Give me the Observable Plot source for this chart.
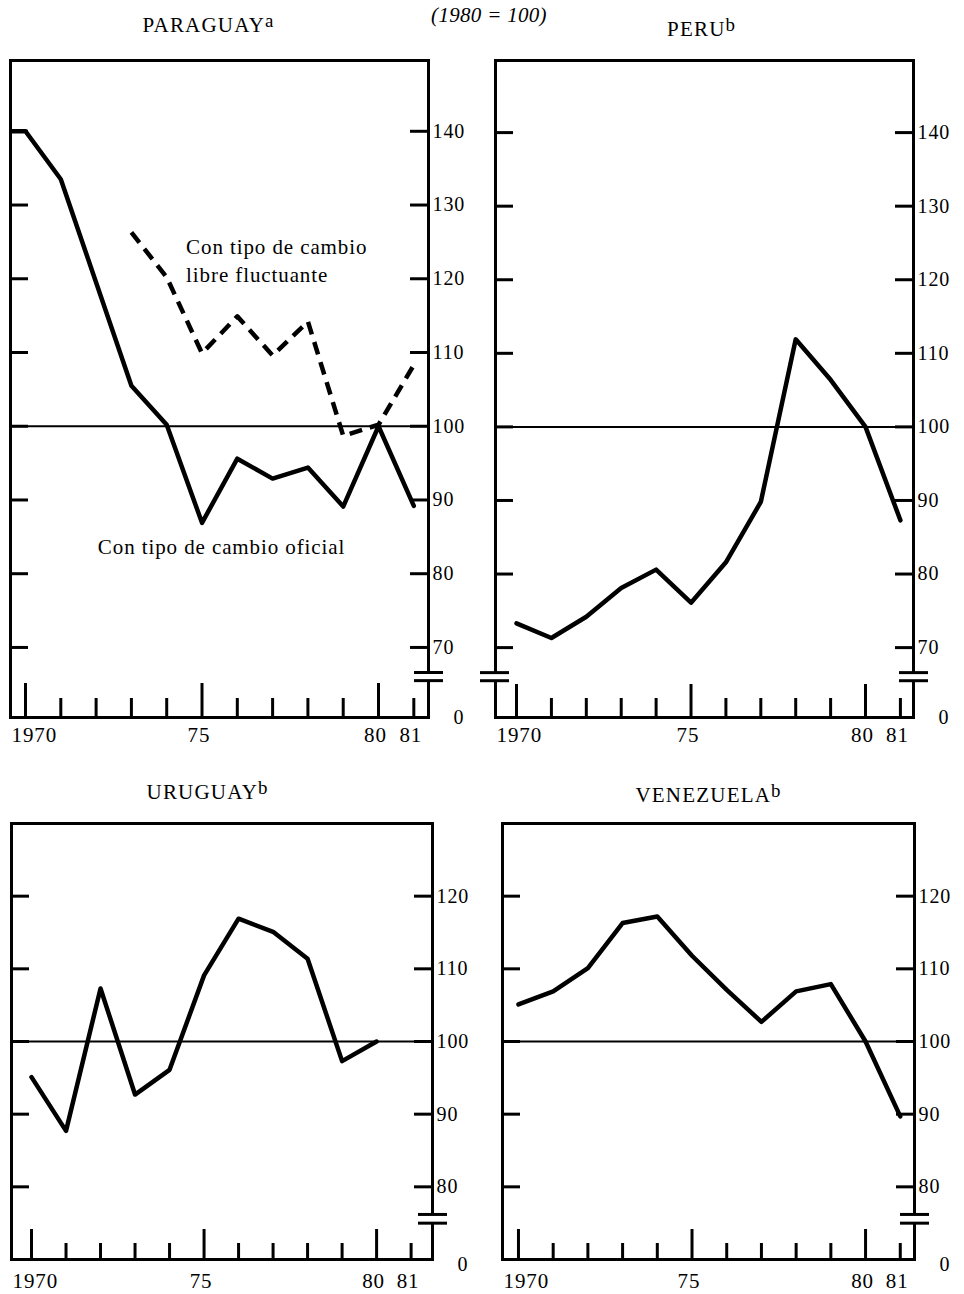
<!DOCTYPE html>
<html><head><meta charset="utf-8">
<script src="https://cdn.jsdelivr.net/npm/d3@7"></script>
<script src="https://cdn.jsdelivr.net/npm/@observablehq/plot@0.6"></script>
<style>
body{margin:0;background:#fff;}
#page{position:relative;width:964px;height:1294px;font-family:"Liberation Serif",serif;color:#000;background:#fff;overflow:hidden;}
.title{position:absolute;font-size:21px;line-height:1;letter-spacing:1.2px;transform:translateX(-50%);white-space:nowrap;}
.title sup{font-size:0.9em;vertical-align:baseline;position:relative;top:-0.28em;letter-spacing:0;}
.subtitle{font-style:italic;letter-spacing:0.3px;font-size:21px;}
.panel{position:absolute;}
.panel svg text{letter-spacing:0.9px;}
</style></head><body><div id="page"></div>
<script>
// ---- data ----
const minorYears = [1971, 1972, 1973, 1974, 1976, 1977, 1978, 1979, 1981];
const majorYears = [1970, 1975, 1980];
const yearLabelYears = [1975, 1980, 1981];
const yearLabels = ["75", "80", "81"];
const firstYearLabel = ["1970"];
const zeroLabel = ["0"];
const topTicks = [70, 80, 90, 100, 110, 120, 130, 140];
const bottomTicks = [80, 90, 100, 110, 120];
const topBreaks = [66.6, 65.5];
const bottomBreaks = [76.2, 75.0];

const paraguayYears = [1969, 1970, 1971, 1972, 1973, 1974, 1975, 1976, 1977, 1978, 1979, 1980, 1981];
const paraguayOficial = [140, 140, 133.5, 119.5, 105.5, 100.2, 86.9, 95.6, 92.9, 94.4, 89.1, 100, 89.2];
const paraguayLibreYears = [1973, 1974, 1975, 1976, 1977, 1978, 1979, 1980, 1981];
const paraguayLibre = [126.3, 120.2, 109.9, 114.9, 109.6, 114.2, 98.7, 100.2, 108.3];
const paraguayNotes = [
  {text: "Con tipo de cambio", x: 1974.55, y: 123.3},
  {text: "libre fluctuante", x: 1974.55, y: 119.6},
  {text: "Con tipo de cambio oficial", x: 1972.05, y: 82.7}
];

const peruYears = [1970, 1971, 1972, 1973, 1974, 1975, 1976, 1977, 1978, 1979, 1980, 1981];
const peruValues = [73.3, 71.3, 74.2, 78.1, 80.6, 76.1, 81.6, 89.8, 111.9, 106.4, 100, 87.3];

const uruguayYears = [1970, 1971, 1972, 1973, 1974, 1975, 1976, 1977, 1978, 1979, 1980];
const uruguayValues = [95.1, 87.7, 107.3, 92.7, 96.1, 109.1, 116.9, 115.1, 111.4, 97.3, 100];

const venezuelaYears = [1970, 1971, 1972, 1973, 1974, 1975, 1976, 1977, 1978, 1979, 1980, 1981];
const venezuelaValues = [105.1, 106.9, 110.1, 116.3, 117.2, 111.8, 107.1, 102.7, 106.9, 107.9, 100, 89.7];

const titles = [
  {html: "PARAGUAY<sup>a</sup>", cx: 208, top: 15},
  {html: "(1980 = 100)", cx: 489, top: 5, cls: "subtitle"},
  {html: "PERU<sup>b</sup>", cx: 701, top: 19},
  {html: "URUGUAY<sup>b</sup>", cx: 207, top: 782},
  {html: "VENEZUELA<sup>b</sup>", cx: 708, top: 785}
];

// ---- layout ----
const page = document.getElementById("page");
for (const t of titles) {
  const d = document.createElement("div");
  d.className = "title" + (t.cls ? " " + t.cls : "");
  d.style.left = t.cx + "px";
  d.style.top = t.top + "px";
  d.innerHTML = t.html;
  page.appendChild(d);
}

const toRows = (xs, ys) => xs.map((x, i) => ({year: x, value: ys[i]}));

function panel(cfg) {
  const plotW = cfg.width - cfg.mL - cfg.mR;
  const plotH = cfg.height - cfg.mT - cfg.mB;
  const marks = [
    Plot.tickY(cfg.yTicks, {y: d => d, insetRight: plotW - 18, strokeWidth: 3}),
    Plot.tickY(cfg.yTicks, {y: d => d, insetLeft: plotW - 18, strokeWidth: 3}),
    Plot.tickX(minorYears, {x: d => d, insetTop: plotH - cfg.minorLen, strokeWidth: 3}),
    Plot.tickX(majorYears, {x: d => d, insetTop: plotH - cfg.majorLen, strokeWidth: 3}),
    Plot.ruleY([100], {strokeWidth: 2}),
    Plot.frame({strokeWidth: 3}),
    // broken-axis markers
    Plot.ruleX([cfg.xDomain[1]], {x: d => d, y1: cfg.breaks[0], y2: cfg.breaks[1], stroke: "white", strokeWidth: 7}),
    Plot.tickY(cfg.breaks, {y: d => d, insetLeft: plotW - 14, insetRight: -15, strokeWidth: 3}),
    // labels
    Plot.text(cfg.yTicks, {y: d => d, frameAnchor: "right", text: d => String(d), dx: 4, textAnchor: "start", lineAnchor: "middle", fontSize: 20}),
    Plot.text(zeroLabel, {frameAnchor: "bottom-right", text: d => d, dx: 36, dy: cfg.zeroDy, textAnchor: "end", lineAnchor: "middle", fontSize: 20}),
    Plot.text(firstYearLabel, {frameAnchor: "bottom-left", text: d => d, dx: 1, dy: cfg.yearDy, textAnchor: "start", lineAnchor: "top", fontSize: 21}),
    Plot.text(yearLabelYears, {x: d => d, frameAnchor: "bottom", text: (d, i) => yearLabels[i], dx: -3, dy: cfg.yearDy, textAnchor: "middle", lineAnchor: "top", fontSize: 21})
  ];
  if (cfg.leftBreak) {
    marks.push(Plot.ruleX([cfg.xDomain[0]], {x: d => d, y1: cfg.breaks[0], y2: cfg.breaks[1], stroke: "white", strokeWidth: 7}));
    marks.push(Plot.tickY(cfg.breaks, {y: d => d, insetLeft: -15, insetRight: plotW - 14, strokeWidth: 3}));
  }
  for (const s of cfg.series) {
    marks.push(Plot.line(s.data, {x: "year", y: "value", strokeWidth: 4.5, strokeLinejoin: "round",
      strokeLinecap: s.dash ? "butt" : "round", strokeDasharray: s.dash || null, clip: true}));
  }
  if (cfg.notes) {
    marks.push(Plot.text(cfg.notes, {x: "x", y: "y", text: "text", textAnchor: "start", lineAnchor: "bottom", fontSize: 21}));
  }
  const svg = Plot.plot({
    width: cfg.width, height: cfg.height,
    marginLeft: cfg.mL, marginRight: cfg.mR, marginTop: cfg.mT, marginBottom: cfg.mB,
    x: {domain: cfg.xDomain, axis: null},
    y: {domain: cfg.yDomain, axis: null},
    style: {fontFamily: "Liberation Serif, serif", fontSize: "20px", background: "transparent", overflow: "visible", color: "black"},
    marks
  });
  const wrap = document.createElement("div");
  wrap.className = "panel";
  wrap.style.left = cfg.left + "px";
  wrap.style.top = cfg.top + "px";
  wrap.appendChild(svg);
  page.appendChild(wrap);
}

panel({
  left: 0, top: 40, width: 482, height: 720, mL: 10, mR: 54, mT: 20, mB: 43,
  xDomain: [1969.575, 1981.416], yDomain: [60.5, 149.6], yTicks: topTicks, breaks: topBreaks,
  majorLen: 34, minorLen: 19, yearDy: 10, zeroDy: 0,
  series: [
    {data: toRows(paraguayYears, paraguayOficial)},
    {data: toRows(paraguayLibreYears, paraguayLibre), dash: "13,8"}
  ],
  notes: paraguayNotes
});
panel({
  left: 482, top: 40, width: 482, height: 720, mL: 13, mR: 51, mT: 20, mB: 43,
  xDomain: [1969.398, 1981.375], yDomain: [60.5, 149.8], yTicks: topTicks, breaks: topBreaks,
  majorLen: 33, minorLen: 19, yearDy: 10, zeroDy: 0, leftBreak: true,
  series: [{data: toRows(peruYears, peruValues)}]
});
panel({
  left: 0, top: 800, width: 482, height: 494, mL: 11, mR: 50, mT: 23, mB: 35,
  xDomain: [1969.42, 1981.62], yDomain: [70, 130], yTicks: bottomTicks, breaks: bottomBreaks,
  majorLen: 30, minorLen: 16, yearDy: 14, zeroDy: 5,
  series: [{data: toRows(uruguayYears, uruguayValues)}]
});
panel({
  left: 482, top: 800, width: 482, height: 494, mL: 20, mR: 50, mT: 23, mB: 35,
  xDomain: [1969.54, 1981.41], yDomain: [70, 130], yTicks: bottomTicks, breaks: bottomBreaks,
  majorLen: 30, minorLen: 16, yearDy: 14, zeroDy: 5,
  series: [{data: toRows(venezuelaYears, venezuelaValues)}]
});
</script></body></html>
